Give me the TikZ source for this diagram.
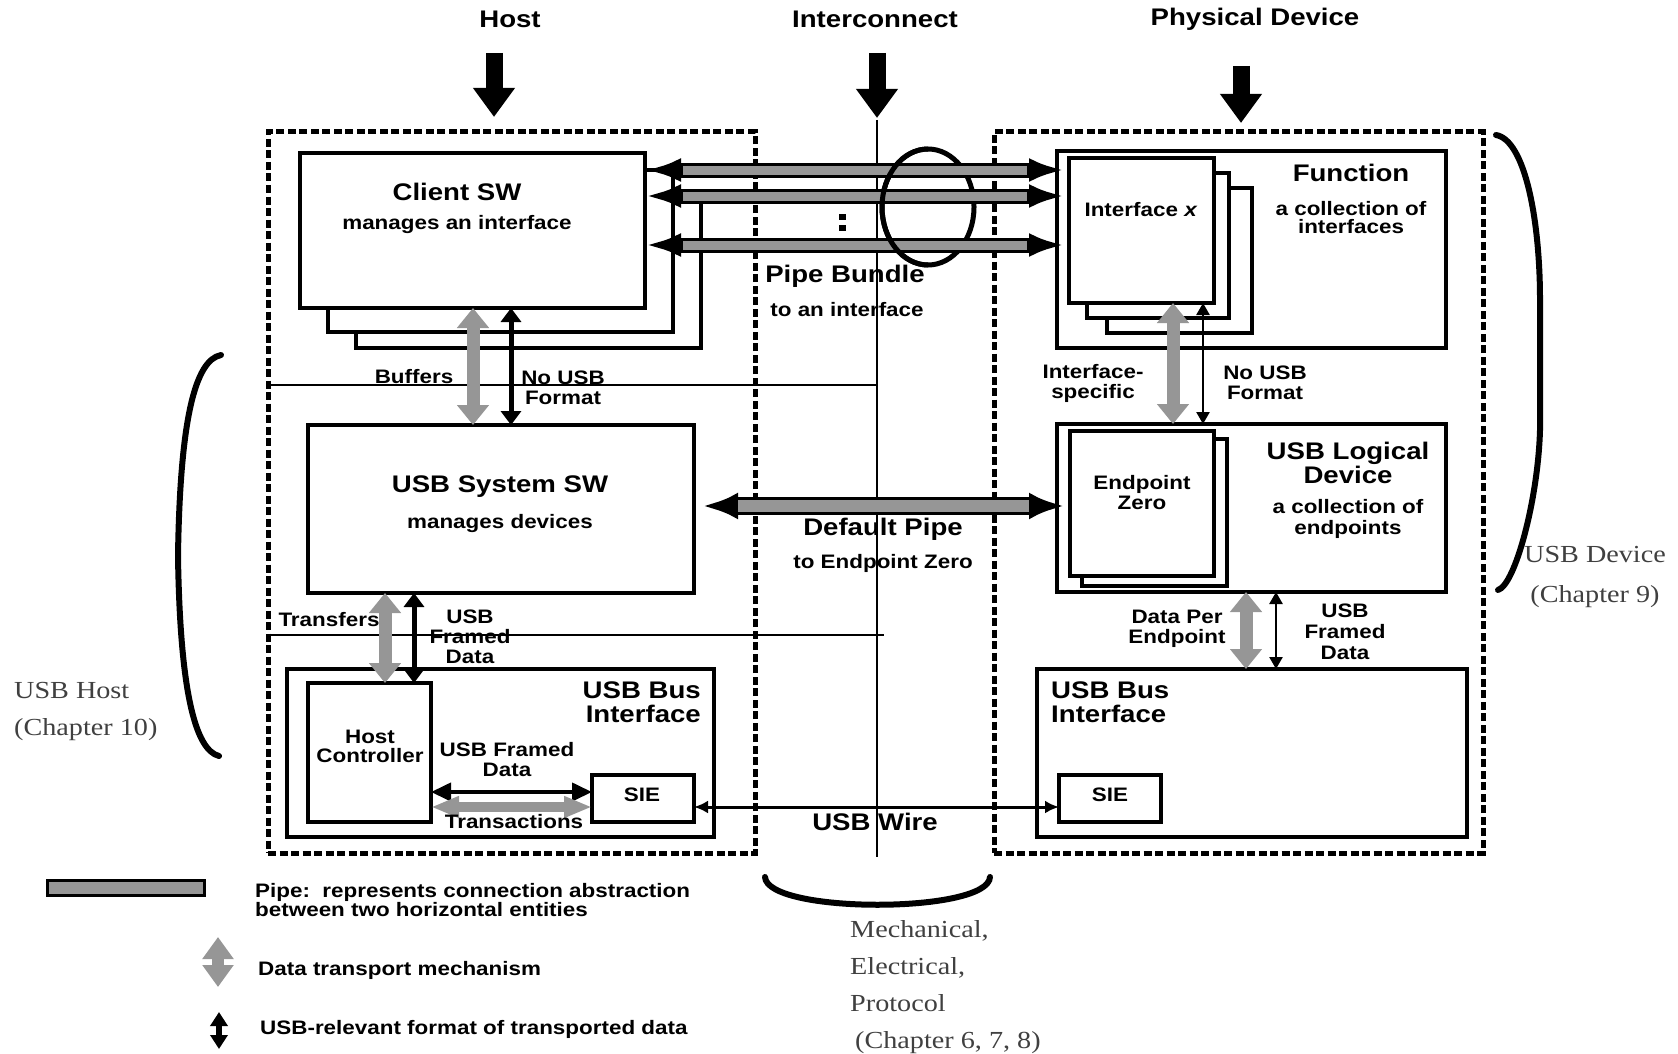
\documentclass[tikz,border=0pt]{standalone}
\usepackage{fontspec}
\setmainfont{Liberation Sans}
\newfontfamily\labfont[FakeStretch=1.15]{Liberation Sans}
\newfontfamily\serfont[FakeStretch=1.15]{Liberation Serif}
\usetikzlibrary{arrows.meta}
\definecolor{pgray}{RGB}{150,150,150}
\begin{document}
\begin{tikzpicture}[x=1pt,y=-1pt,
  blk/.style={draw, line width=3.5pt, fill=white, inner sep=0pt, outer sep=0pt, anchor=north west},
  dashbox/.style={draw, line width=5pt, dash pattern=on 8pt off 3.5pt, inner sep=0pt, outer sep=0pt, anchor=north west},
  bigtxt/.style={font={\labfont\bfseries\fontsize{24}{24}\selectfont}, align=center, inner sep=0pt},
  smalltxt/.style={font={\labfont\bfseries\fontsize{19.5}{20}\selectfont}, align=center, inner sep=0pt},
  sertxt/.style={font={\serfont\fontsize{24.5}{37}\selectfont}, text=black!75, inner sep=0pt},
  thinline/.style={line width=1.5pt},
  bigarrow/.style={line width=17pt, -{Triangle[length=29pt,width=40pt]}},
  pipeline/.style={line width=15pt, {Latex[length=36pt,width=24pt]}-{Latex[length=36pt,width=24pt]}, shorten >=4pt},
  pipecore/.style={line width=9pt, pgray, shorten <=38pt, shorten >=42pt},
  garrow/.style={line width=13pt, pgray, {Triangle[length=20pt,width=31pt]}-{Triangle[length=20pt,width=31pt]}},
  barrow/.style={line width=5pt, {Triangle[length=14pt,width=20pt]}-{Triangle[length=14pt,width=20pt]}},
  barrowthin/.style={line width=2.5pt, {Triangle[length=12pt,width=13pt]}-{Triangle[length=12pt,width=13pt]}},
  hbarrow/.style={line width=4pt, {Triangle[length=20pt,width=18pt]}-{Triangle[length=20pt,width=18pt]}},
  hgarrow/.style={line width=10pt, pgray, {Triangle[length=28pt,width=20pt]}-{Triangle[length=28pt,width=20pt]}},
  wire/.style={line width=3pt, {Latex[length=14pt,width=13pt]}-{Latex[length=14pt,width=13pt]}},
  brace/.style={line width=6pt, line cap=round},
  legg/.style={line width=12pt, pgray, {Triangle[length=22pt,width=30pt]}-{Triangle[length=22pt,width=30pt]}},
  legb/.style={line width=6pt, {Triangle[length=14pt,width=17pt]}-{Triangle[length=14pt,width=17pt]}}
]
\useasboundingbox (0,0) rectangle (1678,1054);

% ---- titles and big arrows
\node[bigtxt] (thost) at (510,19) {Host};
\node[bigtxt] (tinter) at (875,19) {Interconnect};
\node[bigtxt] (tphys) at (1255,19) {Physical Device};
\coordinate (ha1) at (494,53); \coordinate (ha2) at (494,117);
\coordinate (ia1) at (877,53); \coordinate (ia2) at (877,118);
\coordinate (pa1) at (1241,66); \coordinate (pa2) at (1241,123);
\draw[bigarrow] (ha1) -- (ha2);
\draw[bigarrow] (ia1) -- (ia2);
\draw[bigarrow] (pa1) -- (pa2);

% ---- thin lines
\coordinate (ctop) at (877,120); \coordinate (cbot) at (877,857);
\draw[thinline] (ctop) -- (cbot);
\coordinate (l1a) at (268,385); \coordinate (l1b) at (877,385);
\coordinate (l2a) at (268,635); \coordinate (l2b) at (884,635);
\draw[thinline] (l1a) -- (l1b);
\draw[thinline] (l2a) -- (l2b);

% ---- dashed regions
\node[dashbox, minimum width=487pt, minimum height=721pt] (hostdash) at (268,132) {};
\node[dashbox, minimum width=489pt, minimum height=721pt] (devdash) at (994,132) {};

% ---- host boxes
\node[blk, minimum width=345pt, minimum height=152pt] (client3) at (356,196) {};
\node[blk, minimum width=345pt, minimum height=162pt] (client2) at (328,170) {};
\node[blk, minimum width=345pt, minimum height=155pt] (client) at (300,153) {};
\node[blk, minimum width=386pt, minimum height=168pt] (sys) at (308,425) {};
\node[blk, minimum width=427pt, minimum height=168pt] (hbus) at (287,669) {};
\node[blk, minimum width=123pt, minimum height=139pt] (hc) at (308,683) {};
\node[blk, minimum width=102pt, minimum height=47pt] (hsie) at (592,775) {};

% ---- device boxes
\node[blk, minimum width=389pt, minimum height=197pt] (func) at (1057,151) {};
\node[blk, minimum width=145pt, minimum height=145pt] (ifc3) at (1107,188) {};
\node[blk, minimum width=142pt, minimum height=145pt] (ifc2) at (1087,173) {};
\node[blk, minimum width=145pt, minimum height=145pt] (ifc) at (1069,158) {};
\node[blk, minimum width=389pt, minimum height=168pt] (logdev) at (1057,424) {};
\node[blk, minimum width=145pt, minimum height=147pt] (ep2) at (1082,439) {};
\node[blk, minimum width=144pt, minimum height=145pt] (ep) at (1070,431) {};
\node[blk, minimum width=430pt, minimum height=168pt] (dbus) at (1037,669) {};
\node[blk, minimum width=102pt, minimum height=47pt] (dsie) at (1059,775) {};

% ---- pipe bundle
\draw[line width=5pt] (928,207) ellipse [x radius=46, y radius=58];
\draw[pipeline] (client.east |- 0,170) -- (ifc.west |- 0,170);
\draw[pipecore] (client.east |- 0,170) -- (ifc.west |- 0,170);
\draw[pipeline] (client.east |- 0,196) -- (ifc.west |- 0,196);
\draw[pipecore] (client.east |- 0,196) -- (ifc.west |- 0,196);
\draw[pipeline] (client.east |- 0,245) -- (ifc.west |- 0,245);
\draw[pipecore] (client.east |- 0,245) -- (ifc.west |- 0,245);
\draw[line width=5pt] (928,149) arc[start angle=270, end angle=90, x radius=46, y radius=58];
\node[fill=black, minimum width=7pt, minimum height=6pt, inner sep=0pt] (dot1) at (842,217) {};
\node[fill=black, minimum width=7pt, minimum height=6pt, inner sep=0pt] (dot2) at (842,228) {};

% ---- default pipe
\draw[pipeline, line width=18pt, {Latex[length=36pt,width=27pt]}-{Latex[length=36pt,width=27pt]}, shorten <=8pt, shorten >=5pt] (sys.east |- 0,506) -- (ep.west |- 0,506);
\draw[pipecore, line width=12pt, shorten <=44pt, shorten >=41pt] (sys.east |- 0,506) -- (ep.west |- 0,506);

% ---- vertical transport arrows
\draw[garrow] (client.south -| 473,0) -- (sys.north -| 473,0);
\draw[barrow] (client.south -| 511,0) -- (sys.north -| 511,0);
\draw[garrow] (sys.south -| 385,0) -- (hc.north -| 385,0);
\draw[barrow] (sys.south -| 414,0) -- (hc.north -| 414,0);
\draw[garrow] (ifc.south -| 1173,0) -- (logdev.north -| 1173,0);
\draw[barrowthin] (ifc.south -| 1203,0) -- (logdev.north -| 1203,0);
\draw[garrow] (logdev.south -| 1246,0) -- (dbus.north -| 1246,0);
\draw[barrowthin] (logdev.south -| 1276,0) -- (dbus.north -| 1276,0);

% ---- horizontal arrows at bottom
\draw[hbarrow] (hc.east |- 0,792) -- (hsie.west |- 0,792);
\draw[hgarrow] (hc.east |- 0,807) -- (hsie.west |- 0,807);
\draw[wire] (hsie.east |- 0,807) -- (dsie.west |- 0,807);

% ---- braces
\draw[brace] (221,355) .. controls (195,360) and (180,420) .. (178,556) .. controls (180,690) and (195,750) .. (219,756);
\draw[brace] (1496,135) .. controls (1525,140) and (1540,220) .. (1540,300) -- (1540,430) .. controls (1538,500) and (1515,585) .. (1498,590);
\draw[brace] (765,877) .. controls (767,914) and (988,914) .. (990,877);

% ---- texts: host side
\node[bigtxt] (tclient) at (457,192) {Client SW};
\node[smalltxt] (tclient2) at (457,225) {manages an interface};
\node[bigtxt] (tsys) at (500,487) {USB System SW};
\node[smalltxt] (tsys2) at (500,523) {manages devices};
\node[smalltxt] (tbuf) at (414,377) {Buffers};
\node[smalltxt] (tnousb1) at (563,388) {No USB\\Format};
\node[smalltxt] (ttrans) at (329,620) {Transfers};
\node[smalltxt] (tfr1) at (470,637) {USB\\Framed\\Data};
\node[bigtxt, align=right, anchor=east] (thbus) at (701,702) {USB Bus\\Interface};
\node[smalltxt, font={\labfont\bfseries\fontsize{19.5}{19}\selectfont}] (thc) at (370,746) {Host\\Controller};
\node[smalltxt] (tfr2) at (507,760) {USB Framed\\Data};
\node[smalltxt] (thsie) at (642,795) {SIE};
\node[smalltxt] (ttra) at (514,822) {Transactions};

% ---- texts: interconnect
\node[bigtxt] (tbundle) at (845,276) {Pipe Bundle};
\node[smalltxt] (tbundle2) at (847,310) {to an interface};
\node[bigtxt] (tdef) at (883,529) {Default Pipe};
\node[smalltxt] (tdef2) at (883,563) {to Endpoint Zero};
\node[bigtxt] (twire) at (875,822) {USB Wire};

% ---- texts: device side
\node[bigtxt] (tfunc) at (1351,173) {Function};
\node[smalltxt, font={\labfont\bfseries\fontsize{19.5}{18}\selectfont}] (tfunc2) at (1351,218) {a collection of\\interfaces};
\node[smalltxt] (tifc) at (1141,210) {Interface \textit{x}};
\node[smalltxt] (tifspec) at (1093,383) {Interface-\\specific};
\node[smalltxt] (tnousb2) at (1265,383) {No USB\\Format};
\node[bigtxt] (tlog) at (1348,463) {USB Logical\\Device};
\node[smalltxt, font={\labfont\bfseries\fontsize{19.5}{21}\selectfont}] (tlog2) at (1348,519) {a collection of\\endpoints};
\node[smalltxt] (tep) at (1142,493) {Endpoint\\Zero};
\node[smalltxt] (tdpe) at (1177,629) {Data Per\\Endpoint};
\node[smalltxt, font={\labfont\bfseries\fontsize{19.5}{21}\selectfont}] (tfr3) at (1345,632) {USB\\Framed\\Data};
\node[bigtxt, align=left, anchor=west] (tdbus) at (1051,702) {USB Bus\\Interface};
\node[smalltxt] (tdsie) at (1110,795) {SIE};

% ---- side labels
\node[sertxt, align=left, anchor=west] (thostlab) at (14,711) {USB Host\\(Chapter 10)};
\node[sertxt, align=center, font={\serfont\fontsize{24.5}{40}\selectfont}] (tdevlab) at (1595,577) {USB Device\\(Chapter 9)};
\node[sertxt, align=left, anchor=west] (tmech) at (850,987) {Mechanical,\\Electrical,\\Protocol\\\hspace*{5pt}(Chapter 6, 7, 8)};

% ---- legend
\node[fill=pgray, draw, line width=3pt, minimum width=157pt, minimum height=15pt, anchor=north west, inner sep=0pt, outer sep=0pt] (legpipe) at (47,880) {};
\node[smalltxt, align=left, anchor=west, font={\labfont\bfseries\fontsize{19.5}{18}\selectfont}] (tlegpipe) at (255,900) {Pipe:\ \ represents connection abstraction\\between two horizontal entities};
\coordinate (lg1) at (218,937); \coordinate (lg2) at (218,987);
\draw[legg] (lg1) -- (lg2);
\node[smalltxt, anchor=west] (tlegg) at (258,970) {Data transport mechanism};
\coordinate (lb1) at (219,1012); \coordinate (lb2) at (219,1049);
\draw[legb] (lb1) -- (lb2);
\node[smalltxt, anchor=west] (tlegb) at (260,1029) {USB-relevant format of transported data};
\end{tikzpicture}
\end{document}
